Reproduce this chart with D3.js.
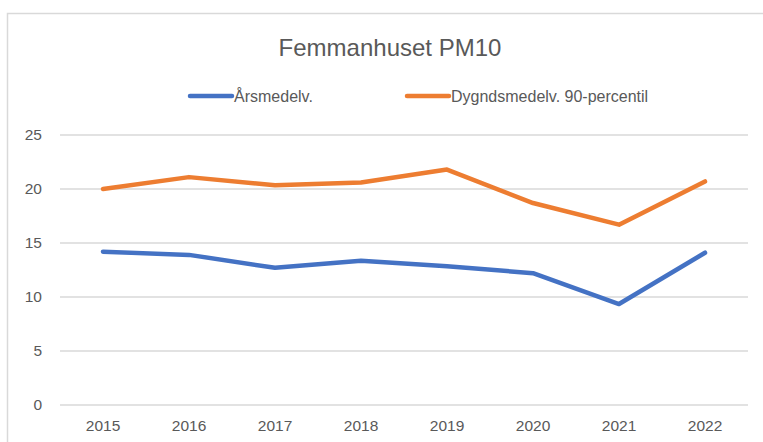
<!DOCTYPE html>
<html>
<head>
<meta charset="utf-8">
<script src="https://cdn.jsdelivr.net/npm/d3@7"></script>
<style>
  body { margin: 0; background: #fff; }
  text { font-family: "Liberation Sans", "DejaVu Sans", sans-serif; fill: #595959; }
</style>
</head>
<body>
<div id="chart"></div>
<script>
var YEARS = ["2015", "2016", "2017", "2018", "2019", "2020", "2021", "2022"];
var ARSMEDEL = [14.2, 13.9, 12.7, 13.35, 12.85, 12.2, 9.35, 14.1];
var DYGN90 = [20.0, 21.1, 20.35, 20.6, 21.8, 18.7, 16.7, 20.7];
var Y_TICKS = [0, 5, 10, 15, 20, 25];
var SERIES = [
  { name: "Årsmedelv.", values: ARSMEDEL, color: "#4472c4" },
  { name: "Dygndsmedelv. 90-percentil", values: DYGN90, color: "#ed7d31" }
];

var W = 763, H = 442;
var margin = { top: 135, right: 15, bottom: 37, left: 60 };
var width = W - margin.left - margin.right,
    height = H - margin.top - margin.bottom;

var svg = d3.select("#chart").append("svg")
  .attr("width", W).attr("height", H);

// chart frame (cropped on right and bottom)
svg.append("rect").attr("x", 7.5).attr("y", 13.5)
  .attr("width", W + 20).attr("height", H + 20)
  .attr("fill", "none").attr("stroke", "#d9d9d9").attr("stroke-width", 1.5);

svg.append("text").attr("x", 390).attr("y", 56)
  .attr("text-anchor", "middle").style("font-size", "24px")
  .text("Femmanhuset PM10");

var g = svg.append("g").attr("transform", "translate(" + margin.left + "," + margin.top + ")");

var x = d3.scaleBand().domain(YEARS).range([0, width]);
var y = d3.scaleLinear().domain([0, 25]).range([height, 0]);

// gridlines
g.selectAll(".grid").data(Y_TICKS).enter().append("line")
  .attr("x1", 0).attr("x2", width)
  .attr("y1", function(d) { return y(d); }).attr("y2", function(d) { return y(d); })
  .attr("stroke", "#d9d9d9").attr("stroke-width", 1.3);

var yAxis = g.append("g").call(d3.axisLeft(y).tickValues(Y_TICKS).tickSize(0).tickPadding(18));
yAxis.select(".domain").remove();
yAxis.selectAll("text").style("font-size", "15.5px").attr("fill", "#595959");

var xAxis = g.append("g").attr("transform", "translate(0," + height + ")")
  .call(d3.axisBottom(x).tickSize(0).tickPadding(15));
xAxis.select(".domain").remove();
xAxis.selectAll("text").style("font-size", "15.5px").attr("fill", "#595959");

var line = d3.line()
  .x(function(d, i) { return x(YEARS[i]) + x.bandwidth() / 2; })
  .y(function(d) { return y(d); });

SERIES.forEach(function(s) {
  g.append("path").datum(s.values)
    .attr("d", line).attr("fill", "none")
    .attr("stroke", s.color).attr("stroke-width", 4.5)
    .attr("stroke-linejoin", "round").attr("stroke-linecap", "round");
});

// legend
var legX = [190, 407];
SERIES.forEach(function(s, i) {
  var lg = svg.append("g").attr("transform", "translate(" + legX[i] + ",96)");
  lg.append("line").attr("x1", 0).attr("x2", 42).attr("y1", 0).attr("y2", 0)
    .attr("stroke", s.color).attr("stroke-width", 4.5).attr("stroke-linecap", "round");
  lg.append("text").attr("x", 44).attr("y", 6).style("font-size", "16px").text(s.name);
});
</script>
</body>
</html>
